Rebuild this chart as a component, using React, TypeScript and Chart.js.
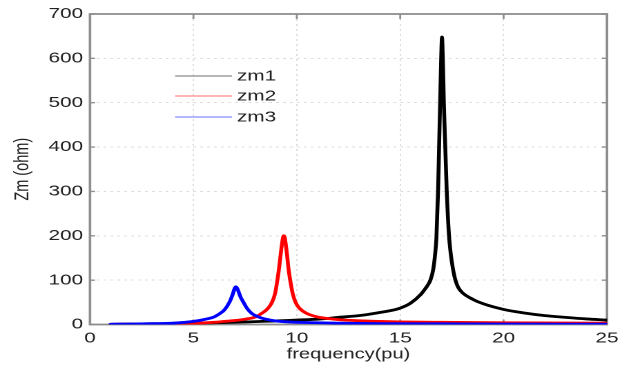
import React, { useEffect, useRef } from 'react';
import { Chart, registerables } from 'chart.js';

Chart.register(...registerables);

// ---- data ----
const seriesLabels = ['zm1', 'zm2', 'zm3'];
const seriesColors = ['#000000', '#ff0000', '#0000ff'];
const legendColors = ['#8c8c8c', '#ff8a8a', '#8a8aff'];

const zm1Freq = [1, 2, 3, 4, 5, 6, 7, 8, 9, 10, 11, 11.6, 12, 13, 14, 14.5, 15, 15.5, 16, 16.2, 16.35, 16.46, 16.6, 16.68, 16.75, 16.83, 16.88, 16.93, 16.98, 17.02, 17.06, 17.11, 17.18, 17.25, 17.36, 17.43, 17.5, 17.58, 17.67, 17.8, 18, 18.5, 19, 20, 21, 22, 23, 24, 25];
const zm1Values = [0.5, 1, 1.5, 2, 3, 4, 5, 6.5, 8, 10, 12, 14, 16, 20, 27, 31, 37, 48, 68, 80, 90, 100, 125, 155, 195, 300, 400, 500, 600, 648, 600, 500, 400, 300, 200, 165, 140, 118, 100, 84, 72, 57, 47, 34, 26, 20, 16, 12.5, 10];

const zm2Freq = [1, 2, 3, 4, 5, 6, 6.5, 7, 7.5, 8, 8.3, 8.6, 8.8, 8.95, 9.06, 9.15, 9.25, 9.32, 9.37, 9.43, 9.52, 9.6, 9.68, 9.8, 9.92, 10.1, 10.48, 11, 11.6, 12, 13, 14, 15, 17, 20, 25];
const zm2Values = [0.3, 0.6, 1, 1.6, 2.5, 5, 7, 9, 12, 17, 25, 36, 50, 70, 100, 130, 170, 193, 200, 192, 160, 125, 100, 70, 52, 38, 25, 17, 13, 11, 8.5, 7, 6, 5, 4, 3];

const zm3Freq = [1, 2, 3, 4, 5, 5.5, 6, 6.29, 6.5, 6.74, 6.9, 7, 7.06, 7.15, 7.28, 7.42, 7.6, 7.82, 8.2, 8.6, 9, 10, 11, 12, 14, 17, 20, 25];
const zm3Values = [0.5, 1, 1.8, 3, 7, 11, 17, 25, 33, 50, 68, 82, 85, 78, 62, 50, 36, 25, 16, 11, 8, 5, 4, 3, 2, 1.5, 1, 0.8];

const xTicks = [0, 5, 10, 15, 20, 25];
const yTicks = [0, 100, 200, 300, 400, 500, 600, 700];
const xTitle = 'frequency(pu)';
const yTitle = 'Zm (ohm)';

// ---- layout (reference image is horizontally stretched) ----
const CSS_W = 631;
const CSS_H = 372;
const SX = 1.38;
const W = Math.round(CSS_W / SX);
const K = CSS_W / W;
const FONT = '"Liberation Sans", Arial, Helvetica, sans-serif';

const seriesFreqs = [zm1Freq, zm2Freq, zm3Freq];
const seriesValues = [zm1Values, zm2Values, zm3Values];

const framePlugin = {
  id: 'frameAndLegend',
  beforeDatasetsDraw(chart: any) {
    const { ctx, chartArea } = chart;
    const { left, right, top, bottom } = chartArea;
    const xs = chart.scales.x;
    const ys = chart.scales.y;
    ctx.save();
    ctx.strokeStyle = '#8e8e8e';
    ctx.lineWidth = 1.4;
    ctx.beginPath();
    xTicks.forEach((v) => {
      const px = xs.getPixelForValue(v);
      ctx.moveTo(px, bottom);
      ctx.lineTo(px, bottom - 5);
      ctx.moveTo(px, top);
      ctx.lineTo(px, top + 5);
    });
    yTicks.forEach((v) => {
      const py = ys.getPixelForValue(v);
      ctx.moveTo(left, py);
      ctx.lineTo(left + 5 / K, py);
      ctx.moveTo(right, py);
      ctx.lineTo(right - 5 / K, py);
    });
    ctx.stroke();
    ctx.lineWidth = 1.8;
    ctx.strokeRect(left, top, right - left, bottom - top);
    ctx.restore();
  },
  afterDatasetsDraw(chart: any) {
    const { ctx } = chart;
    const lineX1 = 175 / K;
    const lineX2 = 232 / K;
    const textX = 237 / K;
    const rows = [76, 96, 117];
    ctx.save();
    ctx.font = `15px ${FONT}`;
    ctx.textBaseline = 'middle';
    ctx.textAlign = 'left';
    seriesLabels.forEach((lab, i) => {
      ctx.strokeStyle = legendColors[i];
      ctx.lineWidth = 1.3;
      ctx.beginPath();
      ctx.moveTo(lineX1, rows[i]);
      ctx.lineTo(lineX2, rows[i]);
      ctx.stroke();
      ctx.fillStyle = '#222';
      ctx.fillText(lab, textX, rows[i] + 0.5);
    });
    ctx.restore();
  },
};

export default function App() {
  const ref = useRef<HTMLCanvasElement | null>(null);

  useEffect(() => {
    if (!ref.current) return;
    const datasets = seriesLabels.map((lab, i) => ({
      label: lab,
      data: seriesFreqs[i].map((f, j) => ({ x: f, y: seriesValues[i][j] })),
      borderColor: seriesColors[i],
      backgroundColor: seriesColors[i],
      borderWidth: 2.8,
      pointRadius: 0,
      fill: false,
      cubicInterpolationMode: 'monotone' as const,
      borderJoinStyle: 'round' as const,
      borderCapStyle: 'round' as const,
      order: 2 - i,
    }));

    const chart = new Chart(ref.current, {
      type: 'line',
      data: { datasets },
      options: {
        animation: false,
        responsive: false,
        maintainAspectRatio: false,
        devicePixelRatio: 2,
        layout: { padding: { left: 0, right: W - 607 / K, top: 14, bottom: 0 } },
        plugins: {
          legend: { display: false },
          tooltip: { enabled: false },
        },
        scales: {
          x: {
            type: 'linear',
            min: 0,
            max: 25,
            afterBuildTicks: (s: any) => {
              s.ticks = xTicks.map((v) => ({ value: v }));
            },
            afterFit: (s: any) => {
              s.height = CSS_H - 324.5;
            },
            ticks: {
              color: '#222',
              font: { family: FONT, size: 15 },
              padding: 5,
              maxRotation: 0,
            },
            grid: {
              color: '#dddddd',
              lineWidth: 1,
              drawTicks: false,
            },
            border: { display: false, dash: [2, 3] },
            title: {
              display: true,
              text: xTitle,
              color: '#222',
              font: { family: FONT, size: 14.5 },
              padding: { top: 0, bottom: 9 },
            },
          },
          y: {
            type: 'linear',
            min: 0,
            max: 700,
            afterBuildTicks: (s: any) => {
              s.ticks = yTicks.map((v) => ({ value: v }));
            },
            afterFit: (s: any) => {
              s.width = 90 / K;
            },
            ticks: {
              color: '#222',
              font: { family: FONT, size: 15 },
              padding: 5,
            },
            grid: {
              color: '#dddddd',
              lineWidth: 1,
              drawTicks: false,
            },
            border: { display: false, dash: [2, 3] },
            title: {
              display: true,
              text: yTitle,
              color: '#222',
              font: { family: FONT, size: 14.5 },
              padding: { top: 8, bottom: 0 },
            },
          },
        },
      },
      plugins: [framePlugin],
    });
    return () => {
      chart.destroy();
    };
  }, []);

  return (
    <div style={{ position: 'absolute', left: 0, top: 0, width: CSS_W, height: CSS_H, background: '#fff' }}>
      <canvas
        ref={ref}
        width={W}
        height={CSS_H}
        style={{ width: `${CSS_W}px`, height: `${CSS_H}px`, display: 'block' }}
      />
    </div>
  );
}
